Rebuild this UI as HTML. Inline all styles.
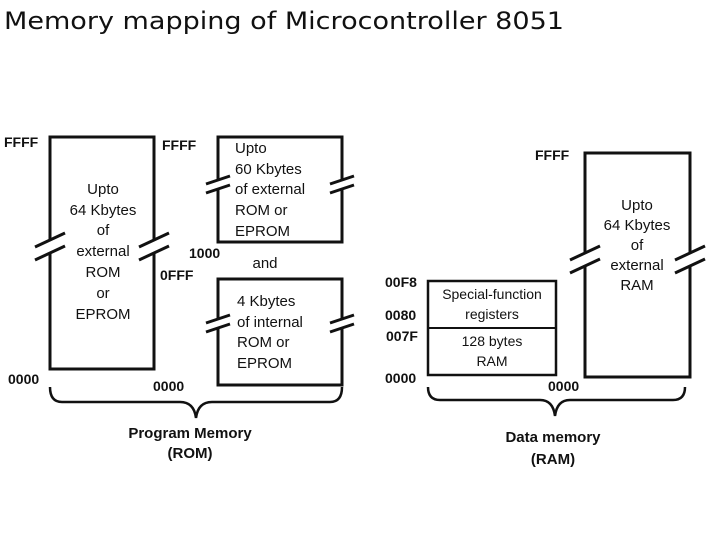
<!DOCTYPE html>
<html><head><meta charset="utf-8"><style>
body{margin:0;background:#fff;}
svg{display:block}
text{font-family:"Liberation Sans",sans-serif;fill:#111;}
.t{font-size:15px;text-anchor:middle;}
.a{font-size:14px;font-weight:bold;}
</style></head><body>
<svg width="720" height="540" viewBox="0 0 720 540">
<text x="4" y="29" textLength="560" lengthAdjust="spacingAndGlyphs" style="font-family:'DejaVu Sans',sans-serif;font-size:24px;">Memory mapping of Microcontroller 8051</text>
<g fill="none" stroke="#111" stroke-width="3">
<rect x="50" y="137" width="104" height="232"/>
<rect x="218" y="137" width="124" height="105"/>
<rect x="218" y="279" width="124" height="106"/>
<rect x="428" y="281" width="128" height="94" stroke-width="2.5"/>
<line x1="428" y1="328" x2="556" y2="328" stroke-width="2"/>
<rect x="585" y="153" width="105" height="224"/>
</g>
<g stroke-width="3">
<g transform="translate(50,243)"><polygon points="-15,4 15,-10 15,3 -15,17" fill="#fff"/><line x1="-15" y1="4" x2="15" y2="-10" stroke="#111"/><line x1="-15" y1="17" x2="15" y2="3" stroke="#111"/></g>
<g transform="translate(154,243)"><polygon points="-15,4 15,-10 15,3 -15,17" fill="#fff"/><line x1="-15" y1="4" x2="15" y2="-10" stroke="#111"/><line x1="-15" y1="17" x2="15" y2="3" stroke="#111"/></g>
<g transform="translate(218,182)"><polygon points="-12,2 12,-6 12,3 -12,11" fill="#fff"/><line x1="-12" y1="2" x2="12" y2="-6" stroke="#111"/><line x1="-12" y1="11" x2="12" y2="3" stroke="#111"/></g>
<g transform="translate(342,182)"><polygon points="-12,2 12,-6 12,3 -12,11" fill="#fff"/><line x1="-12" y1="2" x2="12" y2="-6" stroke="#111"/><line x1="-12" y1="11" x2="12" y2="3" stroke="#111"/></g>
<g transform="translate(218,321)"><polygon points="-12,2 12,-6 12,3 -12,11" fill="#fff"/><line x1="-12" y1="2" x2="12" y2="-6" stroke="#111"/><line x1="-12" y1="11" x2="12" y2="3" stroke="#111"/></g>
<g transform="translate(342,321)"><polygon points="-12,2 12,-6 12,3 -12,11" fill="#fff"/><line x1="-12" y1="2" x2="12" y2="-6" stroke="#111"/><line x1="-12" y1="11" x2="12" y2="3" stroke="#111"/></g>
<g transform="translate(585,256)"><polygon points="-15,4 15,-10 15,3 -15,17" fill="#fff"/><line x1="-15" y1="4" x2="15" y2="-10" stroke="#111"/><line x1="-15" y1="17" x2="15" y2="3" stroke="#111"/></g>
<g transform="translate(690,256)"><polygon points="-15,4 15,-10 15,3 -15,17" fill="#fff"/><line x1="-15" y1="4" x2="15" y2="-10" stroke="#111"/><line x1="-15" y1="17" x2="15" y2="3" stroke="#111"/></g>
</g>
<g fill="none" stroke="#111" stroke-width="2.5">
<path d="M50,387 Q50,402 62,402 L180,402 Q194,402 196,418 Q198,402 212,402 L330,402 Q342,402 342,387"/>
<path d="M428,387 Q428,400 440,400 L540,400 Q553,400 555,416 Q557,400 570,400 L673,400 Q685,400 685,387"/>
</g>
<g class="t">
<text x="103" y="194">Upto</text><text x="103" y="215">64 Kbytes</text><text x="103" y="235">of</text><text x="103" y="256">external</text><text x="103" y="277">ROM</text><text x="103" y="298">or</text><text x="103" y="319">EPROM</text>
<text x="235" y="153" text-anchor="start">Upto</text><text x="235" y="174" text-anchor="start">60 Kbytes</text><text x="235" y="194" text-anchor="start">of external</text><text x="235" y="215" text-anchor="start">ROM or</text><text x="235" y="236" text-anchor="start">EPROM</text>
<text x="237" y="306" text-anchor="start">4 Kbytes</text><text x="237" y="327" text-anchor="start">of internal</text><text x="237" y="347" text-anchor="start">ROM or</text><text x="237" y="368" text-anchor="start">EPROM</text>
<text x="265" y="268">and</text>
<text x="492" y="299" style="font-size:14px">Special-function</text><text x="492" y="319" style="font-size:14px">registers</text>
<text x="492" y="346" style="font-size:14px">128 bytes</text><text x="492" y="366" style="font-size:14px">RAM</text>
<text x="637" y="210">Upto</text><text x="637" y="230">64 Kbytes</text><text x="637" y="250">of</text><text x="637" y="270">external</text><text x="637" y="290">RAM</text>
</g>
<g class="a">
<text x="4" y="147">FFFF</text><text x="162" y="150">FFFF</text>
<text x="189" y="258">1000</text><text x="160" y="280">0FFF</text>
<text x="8" y="384">0000</text><text x="153" y="391">0000</text>
<text x="535" y="160">FFFF</text>
<text x="385" y="287">00F8</text><text x="385" y="320">0080</text><text x="386" y="341">007F</text><text x="385" y="383">0000</text>
<text x="548" y="391">0000</text>
</g>
<g style="font-size:15px;font-weight:bold;text-anchor:middle">
<text x="190" y="438">Program Memory</text><text x="190" y="458">(ROM)</text>
<text x="553" y="442">Data memory</text><text x="553" y="464">(RAM)</text>
</g>
</svg>
</body></html>
